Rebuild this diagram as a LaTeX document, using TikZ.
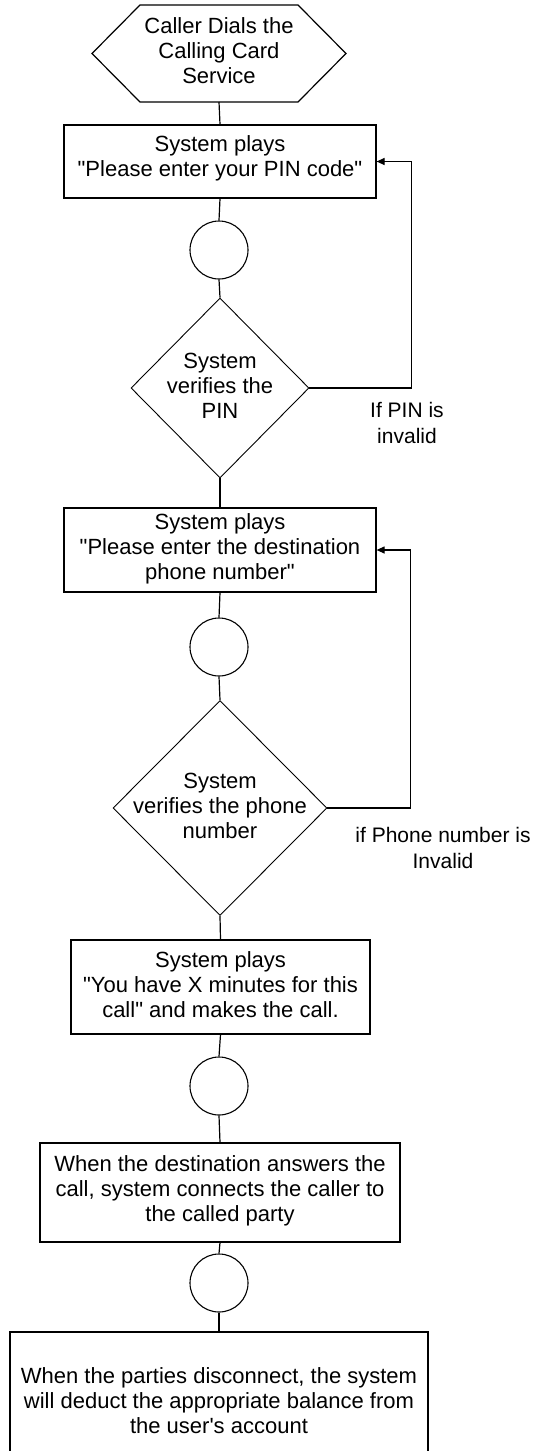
\documentclass[tikz,border=0pt]{standalone}
\usepackage{fontspec}
\setmainfont{Liberation Sans}
\usetikzlibrary{shapes.geometric,arrows.meta}
\begin{document}
\begin{tikzpicture}[x=1pt,y=-1pt,
  every node/.style={font=\fontsize{22}{25}\selectfont, align=center},
  ln/.style={draw=black, line width=1.2pt},
  stepbox/.style={ln, rectangle, inner sep=0pt},
  conn/.style={draw=black, line width=1.1pt, shape=circle, minimum size=58pt, inner sep=0pt},
  decision/.style={draw=black, line width=0.9pt, shape=diamond, inner sep=0pt},
  arr/.style={ln, -{Triangle[length=8pt,width=7pt]}},
  lbl/.style={font=\fontsize{21}{26}\selectfont}
]
\useasboundingbox (0,0) rectangle (535,1451);
\clip (0,0) rectangle (535,1451);
\fill[white] (0,0) rectangle (535,1451);

% start hexagon
\draw[ln, line join=miter] (92,53.5) -- (140,5) -- (298,5) -- (346,53.5) -- (298,102) -- (140,102) -- cycle;
\node (start) at (219,51) {Caller Dials the\\Calling Card\\Service};
\coordinate (startS) at (219,102);

\node[stepbox, minimum width=312pt, minimum height=73pt] (b1) at (220,161.5) {};
\node at (220,158) {System plays\\\textquotedbl Please enter your PIN code\textquotedbl};

\node[conn] (c1) at (219,250) {};
\node[decision, minimum width=178pt, minimum height=180pt] (d1) at (220,388) {};
\node at (220,386) {System\\verifies the\\PIN};

\node[stepbox, minimum width=312pt, minimum height=84pt] (b2) at (220,550) {};
\node at (220,549) {System plays\\\textquotedbl Please enter the destination\\phone number\textquotedbl};

\node[conn] (c2) at (219,647) {};
\node[decision, minimum width=214pt, minimum height=215pt] (d2) at (220,808) {};
\node at (220,806) {System\\verifies the phone\\number};

\node[stepbox, minimum width=299pt, minimum height=94pt] (b3) at (220.5,987) {};
\node at (220.5,985) {System plays\\\textquotedbl You have X minutes for this\\call\textquotedbl{} and makes the call.};

\node[conn] (c3) at (219,1086) {};

\node[stepbox, minimum width=360pt, minimum height=99pt] (b4) at (220,1192.5) {};
\node at (220,1191) {When the destination answers the\\call, system connects the caller to\\the called party};

\node[conn] (c4) at (219,1283) {};

\node[stepbox, minimum width=418pt, minimum height=140pt] (b5) at (219,1402) {};
\node at (219,1401) {When the parties disconnect, the system\\will deduct the appropriate balance from\\the user\textquotesingle s account};

% labels
\node[lbl] (l1) at (407,423) {If PIN is\\invalid};
\node[lbl] (l2) at (443,848) {if Phone number is\\Invalid};

% connectors
\draw[ln] (startS) -- (b1.north);
\draw[ln] (b1.south) -- (c1.north);
\draw[ln] (c1.south) -- (d1.north);
\draw[ln] (d1.south) -- (b2.north);
\draw[ln] (b2.south) -- (c2.north);
\draw[ln] (c2.south) -- (d2.north);
\draw[ln] (d2.south) -- (b3.north);
\draw[ln] (b3.south) -- (c3.north);
\draw[ln] (c3.south) -- (b4.north);
\draw[ln] (b4.south) -- (c4.north);
\draw[ln] (c4.south) -- (b5.north);

\draw[arr] (d1.east) -- ++(102,0) |- (b1.east);
\draw[arr] (d2.east) -- ++(83,0) |- (b2.east);
\end{tikzpicture}
\end{document}
